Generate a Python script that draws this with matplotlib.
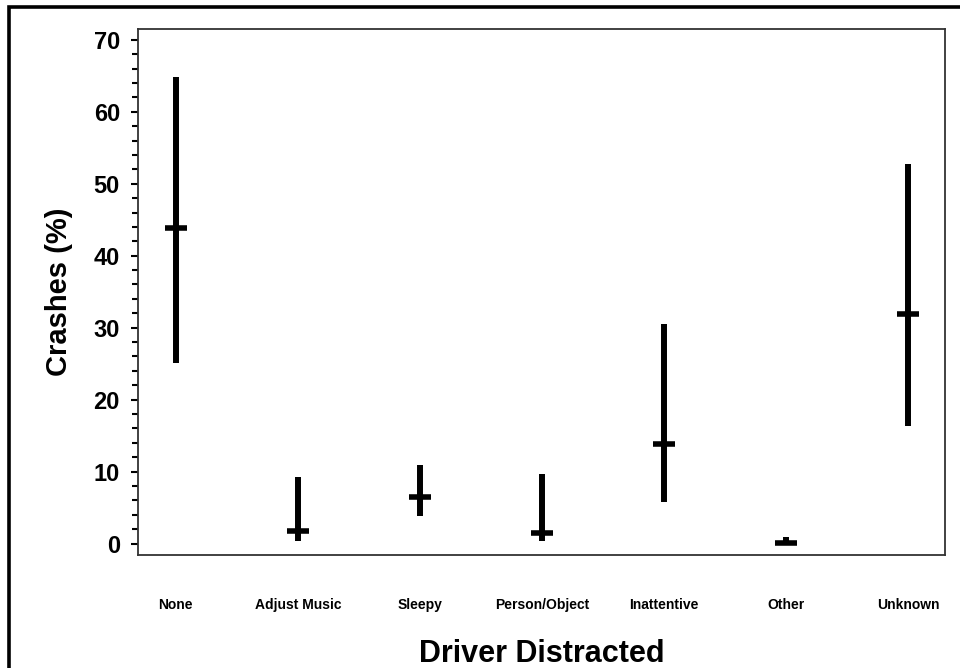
import matplotlib
matplotlib.use("Agg")
import matplotlib.pyplot as plt
from matplotlib.patches import Rectangle
from matplotlib.ticker import MultipleLocator

plt.rcParams['font.family'] = ['Liberation Sans', 'DejaVu Sans']

# data
categories = ['None', 'Adjust Music', 'Sleepy', 'Person/Object', 'Inattentive', 'Other', 'Unknown']
mean_pct = [43.9, 1.7, 6.5, 1.5, 13.8, 0.1, 31.9]
lower_pct = [25.1, 0.35, 3.8, 0.35, 5.8, 0.0, 16.3]
upper_pct = [64.8, 9.3, 10.9, 9.65, 30.5, 0.9, 52.8]

fig = plt.figure(figsize=(9.6, 6.68), dpi=100)
ax = fig.add_axes([0.14375, 0.169, 0.8406, 0.7876])

x = list(range(len(categories)))
ax.vlines(x, lower_pct, upper_pct, colors='black', linewidth=4.3)
ax.plot(x, mean_pct, linestyle='none', marker='_', markersize=16,
        markeredgewidth=4.0, color='black')

ax.set_xlim(-0.31, 6.3)
ax.set_ylim(-1.6, 71.5)
ax.set_xticks(x)
ax.set_xticklabels(categories, fontsize=10, fontweight='bold')
ax.tick_params(axis='x', length=0, pad=31)
ax.yaxis.set_major_locator(MultipleLocator(10))
ax.yaxis.set_minor_locator(MultipleLocator(2))
ax.tick_params(axis='y', which='major', length=5, width=1.5, labelsize=17, pad=8)
ax.tick_params(axis='y', which='minor', length=4, width=1.5)
for lab in ax.get_yticklabels():
    lab.set_fontweight('bold')

for sp in ax.spines.values():
    sp.set_linewidth(1.3)
    sp.set_color('#333333')

ax.set_ylabel('Crashes (%)', fontsize=21, fontweight='bold', labelpad=15)
ax.set_xlabel('Driver Distracted', fontsize=22, fontweight='bold', labelpad=19)

# outer frame (left and top edges visible)
fig.patches.append(Rectangle((9 / 960, -0.1), 1.2, 1.1 - 7 / 668,
                             transform=fig.transFigure, fill=False,
                             edgecolor='black', linewidth=2.6))

fig.savefig('out.png', dpi=100)
